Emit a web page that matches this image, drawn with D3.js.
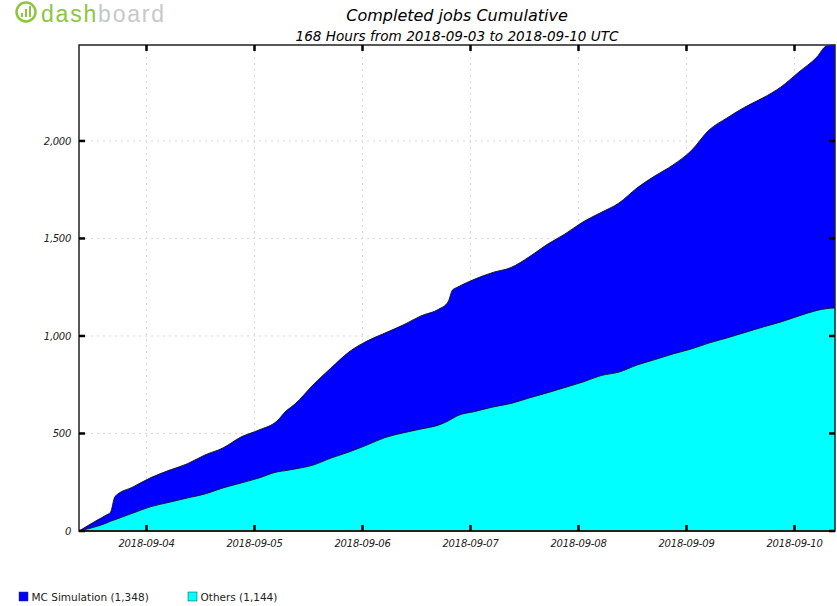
<!DOCTYPE html>
<html>
<head>
<meta charset="utf-8">
<style>
  body { margin: 0; background: #fff; }
  svg { display: block; font-family: "DejaVu Sans", sans-serif; }
</style>
</head>
<body>
<svg id="chart" width="837" height="606"></svg>
<script src="https://cdnjs.cloudflare.com/ajax/libs/d3/7.8.5/d3.min.js"></script>
<script>
// hours since 2018-09-03 09:00 UTC, cumulative completed jobs per series
const hours = [0, 4, 6, 7, 8, 12, 16, 20, 24, 28, 32, 36, 40, 44, 46, 48, 52, 56, 60, 64,
  68, 72, 76, 80, 82, 83, 84, 88, 92, 96, 100, 104, 108, 112, 116, 120, 124, 128, 132,
  136, 140, 144, 148, 152, 156, 160, 164, 166, 168];
const mcSimulation = [0, 31, 41, 46, 119, 134, 149, 164, 175, 200, 205, 236, 246, 261, 305,
  333, 411, 462, 513, 533, 536, 553, 580, 594, 610, 659, 659, 679, 690, 697, 723, 761, 787,
  821, 836, 867, 908, 942, 969, 1016, 1092, 1128, 1156, 1175, 1205, 1251, 1300, 1345, 1348];
const others = [0, 24, 40, 50, 58, 92, 125, 147, 169, 190, 221, 246, 272, 303, 310, 318,
  338, 374, 405, 441, 479, 503, 523, 544, 564, 577, 590, 613, 636, 654, 682, 708, 736, 764,
  797, 815, 851, 879, 908, 933, 964, 990, 1018, 1046, 1072, 1103, 1131, 1140, 1144];
const seriesNames = ["Others", "MC Simulation"];
const seriesColors = ["#00ffff", "#0000ff"];
const yTicks = [0, 500, 1000, 1500, 2000];

const start = Date.UTC(2018, 8, 3, 9);
const rows = hours.map((h, i) => ({
  date: new Date(start + h * 3600e3),
  "Others": others[i],
  "MC Simulation": mcSimulation[i]
}));

const svg = d3.select("#chart");
const plotL = 79, plotR = 835, plotT = 45, plotB = 531;

const x = d3.scaleUtc()
  .domain([new Date(start), new Date(start + 168 * 3600e3)])
  .range([plotL, plotR]);
const total = d3.max(rows, d => d["Others"] + d["MC Simulation"]);
const y = d3.scaleLinear().domain([0, total]).range([plotB, plotT]);

// grid
const grid = svg.append("g").attr("stroke", "#d8d8d8").attr("stroke-dasharray", "2,4");
grid.selectAll(".gy").data(yTicks.slice(1)).join("line")
  .attr("x1", plotL).attr("x2", plotR)
  .attr("y1", d => y(d)).attr("y2", d => y(d));
const xTicks = x.ticks(d3.utcDay.every(1));
grid.selectAll(".gx").data(xTicks).join("line")
  .attr("x1", d => x(d)).attr("x2", d => x(d))
  .attr("y1", plotT).attr("y2", plotB);

// stacked areas
const stack = d3.stack().keys(seriesNames);
const layers = stack(rows);
const area = d3.area()
  .x(d => x(d.data.date))
  .y0(d => y(d[0]))
  .y1(d => y(d[1]))
  .curve(d3.curveMonotoneX);
const topLine = d3.line()
  .x(d => x(d.data.date))
  .y(d => y(d[1]))
  .curve(d3.curveMonotoneX);

svg.append("g").selectAll("path").data(layers).join("path")
  .attr("d", area)
  .attr("fill", (d, i) => seriesColors[i]);
svg.append("g").selectAll("path").data(layers).join("path")
  .attr("d", topLine)
  .attr("fill", "none")
  .attr("stroke", "#111")
  .attr("stroke-width", 0.9);

// frame
svg.append("rect")
  .attr("x", plotL).attr("y", plotT)
  .attr("width", plotR - plotL).attr("height", plotB - plotT)
  .attr("fill", "none").attr("stroke", "#222").attr("stroke-width", 1.5);
svg.append("line")
  .attr("x1", plotL).attr("x2", plotR).attr("y1", plotB).attr("y2", plotB)
  .attr("stroke", "#222").attr("stroke-width", 2);

// ticks
const ticks = svg.append("g").attr("stroke", "#000").attr("stroke-width", 2.5);
ticks.selectAll(".yl").data(yTicks).join("line")
  .attr("x1", plotL).attr("x2", plotL + 6)
  .attr("y1", d => y(d)).attr("y2", d => y(d));
ticks.selectAll(".yr").data(yTicks).join("line")
  .attr("x1", plotR - 6).attr("x2", plotR)
  .attr("y1", d => y(d)).attr("y2", d => y(d));
ticks.selectAll(".xb").data(xTicks).join("line")
  .attr("x1", d => x(d)).attr("x2", d => x(d))
  .attr("y1", plotB).attr("y2", plotB - 6);
ticks.selectAll(".xt").data(xTicks).join("line")
  .attr("x1", d => x(d)).attr("x2", d => x(d))
  .attr("y1", plotT).attr("y2", plotT + 6);

// tick labels
svg.append("g").selectAll("text").data(yTicks).join("text")
  .attr("x", plotL - 8).attr("y", d => y(d) + 4)
  .attr("text-anchor", "end")
  .attr("font-size", 10).attr("font-style", "italic").attr("fill", "#222")
  .attr("letter-spacing", -0.3)
  .text(d3.format(","));
svg.append("g").selectAll("text").data(xTicks).join("text")
  .attr("x", d => x(d)).attr("y", plotB + 16)
  .attr("text-anchor", "middle")
  .attr("font-size", 10).attr("font-style", "italic").attr("fill", "#222")
  .attr("letter-spacing", -0.2)
  .text(d3.utcFormat("%Y-%m-%d"));

// titles
svg.append("text")
  .attr("x", (plotL + plotR) / 2).attr("y", 21)
  .attr("text-anchor", "middle").attr("font-size", 16).attr("font-style", "italic")
  .text("Completed jobs Cumulative");
svg.append("text")
  .attr("x", (plotL + plotR) / 2).attr("y", 41)
  .attr("text-anchor", "middle").attr("font-size", 13.6).attr("font-style", "italic")
  .text("168 Hours from 2018-09-03 to 2018-09-10 UTC");

// legend
const legendItems = [
  { label: "MC Simulation (1,348)", color: seriesColors[1], x: 19 },
  { label: "Others (1,144)", color: seriesColors[0], x: 188 }
];
const lg = svg.append("g").selectAll("g").data(legendItems).join("g")
  .attr("transform", d => `translate(${d.x},592)`);
lg.append("rect").attr("width", 9).attr("height", 9)
  .attr("fill", d => d.color).attr("stroke", "#333").attr("stroke-width", 0.5);
lg.append("text").attr("x", 12.5).attr("y", 8.5)
  .attr("font-size", 10.5).attr("fill", "#222")
  .text(d => d.label);

// logo
const logo = svg.append("g").attr("transform", "translate(14,1)");
logo.append("circle").attr("cx", 12).attr("cy", 11).attr("r", 9.5)
  .attr("fill", "none").attr("stroke", "#8cc63e").attr("stroke-width", 2.5);
logo.selectAll("rect").data([4, 8, 11]).join("rect")
  .attr("x", (d, i) => 7 + i * 4).attr("y", d => 16 - d).attr("width", 2).attr("height", d => d)
  .attr("fill", "#8cc63e");
logo.append("text").attr("x", 27).attr("y", 21)
  .attr("font-family", "'Liberation Sans', sans-serif").attr("font-size", 23)
  .attr("fill", "#8cc63e").attr("letter-spacing", 1.8)
  .text("dash")
  .append("tspan").attr("fill", "#c8c8c8").text("board");
</script>
</body>
</html>
